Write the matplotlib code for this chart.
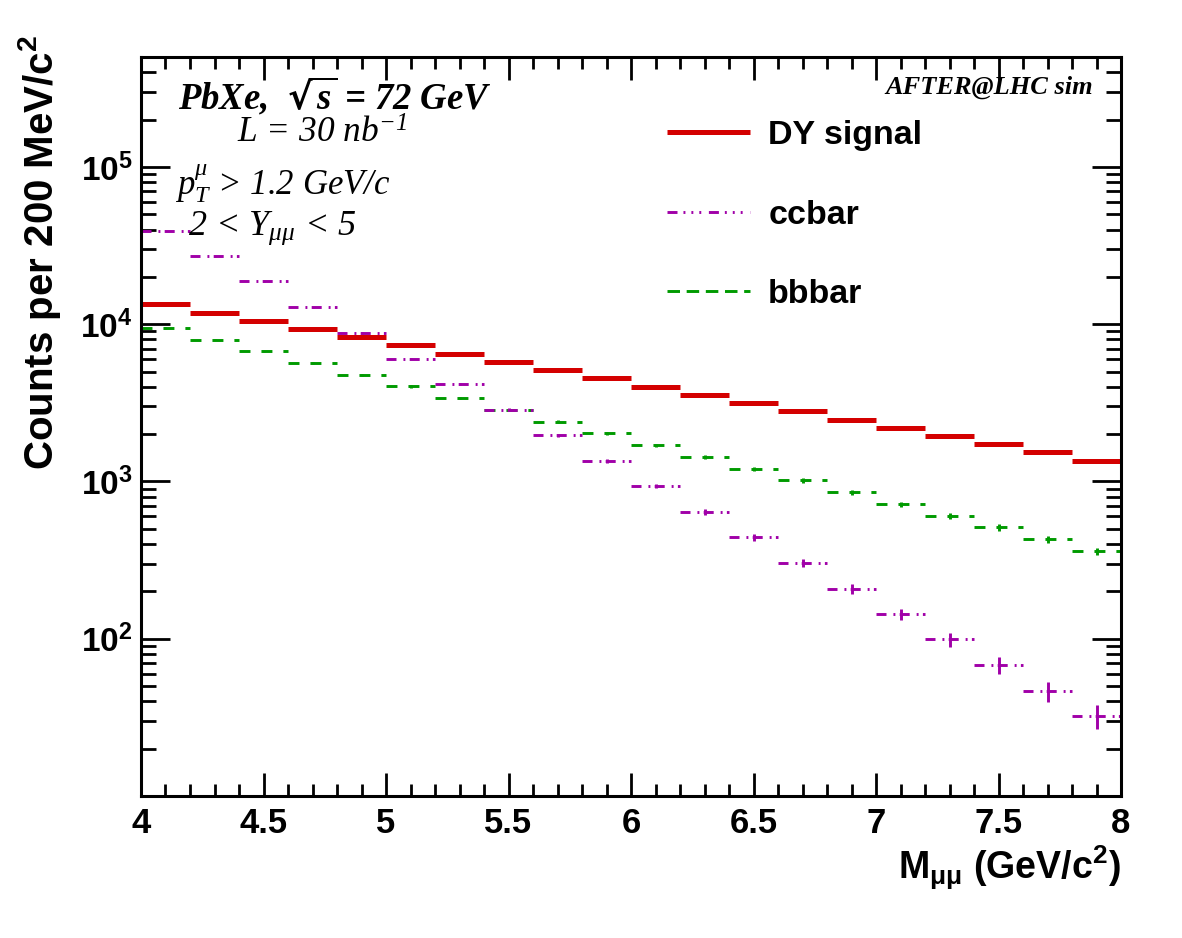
import numpy as np
import matplotlib
matplotlib.use("Agg")
import matplotlib.pyplot as plt
from matplotlib.lines import Line2D
from matplotlib.ticker import LogLocator, MultipleLocator, FixedLocator, FixedFormatter, NullFormatter

# ---------------- data ----------------
mass_centers = [4.1, 4.3, 4.5, 4.7, 4.9, 5.1, 5.3, 5.5, 5.7, 5.9,
                6.1, 6.3, 6.5, 6.7, 6.9, 7.1, 7.3, 7.5, 7.7, 7.9]
bin_half_width = 0.1

dy_counts = [13350, 11800, 10500, 9340, 8300, 7350, 6480, 5760, 5100, 4520,
             3990, 3540, 3150, 2790, 2460, 2190, 1950, 1730, 1530, 1350]
dy_err = [116, 109, 102, 97, 91, 86, 80, 76, 71, 67,
          63, 59, 56, 53, 50, 47, 44, 42, 39, 37]

cc_counts = [39200, 27100, 18700, 12800, 8800, 6050, 4170, 2860, 1970, 1350,
             934, 641, 441, 304, 208, 143, 99, 68, 46.6, 32.2]
cc_err = [198, 164, 137, 113, 94, 78, 65, 53, 44, 37,
          31, 25, 21, 17, 14.4, 12, 9.9, 8.2, 6.8, 5.7]

bb_counts = [9470, 7990, 6710, 5650, 4760, 4020, 3390, 2850, 2400, 2020,
             1700, 1430, 1200, 1015, 852, 717, 604, 510, 430, 360]
bb_err = [97, 89, 82, 75, 69, 63, 58, 53, 49, 45,
          41, 38, 35, 32, 29, 27, 25, 23, 21, 19]

series_labels = ["DY signal", "ccbar", "bbbar"]
x_ticks = [4, 4.5, 5, 5.5, 6, 6.5, 7, 7.5, 8]
x_tick_labels = ["4", "4.5", "5", "5.5", "6", "6.5", "7", "7.5", "8"]
y_ticks = [1e2, 1e3, 1e4, 1e5]
y_tick_labels = [r"$\mathdefault{10^{2}}$", r"$\mathdefault{10^{3}}$",
                 r"$\mathdefault{10^{4}}$", r"$\mathdefault{10^{5}}$"]

# ---------------- style ----------------
plt.rcParams["lines.scale_dashes"] = False
plt.rcParams["font.family"] = ["Liberation Sans", "DejaVu Sans"]
plt.rcParams["font.weight"] = "bold"

RED = "#d40000"
PURPLE = "#a000a8"
GREEN = "#009a00"

fig = plt.figure(figsize=(11.82, 9.38), dpi=100)
ax = fig.add_axes([141 / 1182, 1 - 796 / 938, 980 / 1182, 739 / 938])
ax.set_xlim(4, 8)
ax.set_yscale("log")
ax.set_ylim(10, 5e5)

cc_style = (0, (7.2, 5.0, 1.4, 3.1))
bb_style = (0, (7.9, 7.9))


def draw_hist(y, yerr, color, lw, style):
    eb = ax.errorbar(mass_centers, y, xerr=bin_half_width, yerr=yerr, fmt="none",
                     ecolor=color, elinewidth=lw, capsize=0)
    xcol, ycol = eb[2]
    xcol.set_linestyle(style)
    xcol.set_capstyle("butt")
    ycol.set_linestyle("-")
    return eb


draw_hist(bb_counts, bb_err, GREEN, 2.1, bb_style)
draw_hist(cc_counts, cc_err, PURPLE, 2.1, cc_style)
draw_hist(dy_counts, dy_err, RED, 3.6, "-")

# ---------------- axes styling ----------------
for sp in ax.spines.values():
    sp.set_linewidth(2.2)

ax.xaxis.set_major_locator(FixedLocator(x_ticks))
ax.xaxis.set_major_formatter(FixedFormatter(x_tick_labels))
ax.xaxis.set_minor_locator(MultipleLocator(0.1))
ax.yaxis.set_major_locator(FixedLocator(y_ticks))
ax.yaxis.set_major_formatter(FixedFormatter(y_tick_labels))
ax.yaxis.set_minor_locator(LogLocator(base=10, subs=np.arange(2, 10), numticks=20))
ax.yaxis.set_minor_formatter(NullFormatter())

ax.tick_params(axis="both", which="both", direction="in", top=True, right=True, width=2.0)
ax.tick_params(axis="x", which="major", length=16.5, labelsize=25, pad=8)
ax.tick_params(axis="x", which="minor", length=8.6)
ax.tick_params(axis="y", which="major", length=21, labelsize=24, pad=6)
ax.tick_params(axis="y", which="minor", length=10.8)

ax.set_xlabel(r"M$\mathdefault{_{\mu\mu}}$ (GeV/c$\mathdefault{^{2}}$)", fontsize=27,
              fontweight="bold", loc="right")
ax.xaxis.set_label_coords(1.0, -0.064)
ax.set_ylabel(r"Counts per 200 MeV/c$\mathdefault{^{2}}$", fontsize=29,
              fontweight="bold", loc="top")
ax.yaxis.set_label_coords(-0.080, 1.03)

# ---------------- legend (manual) ----------------
leg_rows = [(series_labels[0], RED, "-", 3.6, 0.8985),
            (series_labels[1], PURPLE, (0, (7.2, 4.3, 1.4, 4.3, 1.4, 4.3, 1.4, 5.5)), 2.1, 0.790),
            (series_labels[2], GREEN, (0, (9.0, 4.8)), 2.1, 0.683)]
for lab, col, ls, lw, yy in leg_rows:
    ax.add_line(Line2D([0.537, 0.621], [yy, yy], transform=ax.transAxes, color=col,
                       linestyle=ls, linewidth=lw, solid_capstyle="butt",
                       dash_capstyle="butt"))
    ax.text(0.640, yy, lab, transform=ax.transAxes, fontsize=24.5, fontweight="bold",
            va="center_baseline", ha="left")

# ---------------- annotations ----------------
serif = ["Liberation Serif", "DejaVu Serif"]
ax.text(0.0378, 0.9526, r"PbXe,  $\mathdefault{\sqrt{s}}$ = 72 GeV", transform=ax.transAxes,
        fontsize=26.5, family=serif, fontweight="bold", fontstyle="italic",
        va="center_baseline", ha="left")
ax.text(0.098, 0.901, r"L = 30 nb$\mathdefault{^{-1}}$", transform=ax.transAxes,
        fontsize=25.5, family=serif, fontweight="normal", fontstyle="italic",
        va="center_baseline", ha="left")
ax.text(0.0347, 0.836, r"$\mathdefault{p_{T}^{\mu}}$ > 1.2 GeV/c", transform=ax.transAxes,
        fontsize=25, family=serif, fontweight="normal", fontstyle="italic",
        va="center_baseline", ha="left")
ax.text(0.048, 0.777, r"2 < $\mathdefault{Y_{\mu\mu}}$ < 5", transform=ax.transAxes,
        fontsize=26, family=serif, fontweight="normal", fontstyle="italic",
        va="center_baseline", ha="left")
ax.text(0.971, 0.962, "AFTER@LHC sim", transform=ax.transAxes,
        fontsize=19, family=serif, fontweight="bold", fontstyle="italic",
        va="center_baseline", ha="right")

fig.savefig("out.png", dpi=100)
